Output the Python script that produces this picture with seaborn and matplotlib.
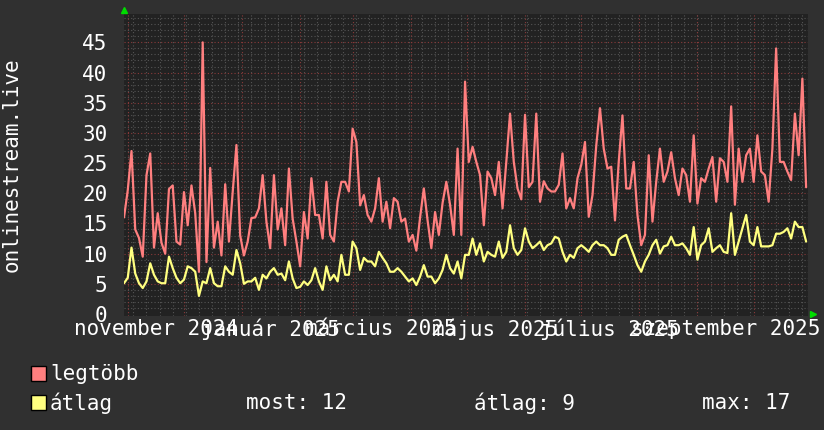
import pandas as pd
import matplotlib
matplotlib.use("Agg")
import matplotlib.pyplot as plt
from matplotlib.patches import Rectangle
import seaborn as sns

# napi adatok, 2 naponkent leolvasva
start = "2024-10-30"
legtobb = [
    16, 20.5, 27, 14, 12.6, 9.5, 23, 26.6, 11, 16.7,
    11.8, 10, 20.7, 21.3, 12, 11.5, 20.2, 14.7, 21.3, 16.7,
    7, 45, 8.6, 24.2, 11, 15.3, 9.7, 21.5, 12, 20.2,
    28, 13, 9.7, 12, 15.9, 16, 17.5, 23, 15.3, 10.9,
    23, 14, 17.5, 11.4, 24.1, 15.8, 12, 7.9, 16.9, 12.5,
    22.5, 16.4, 16.4, 12.5, 21.9, 13.1, 12, 18.6, 21.9, 21.9,
    20.3, 30.7, 28.5, 18, 19.7, 16.4, 15.3, 17.5, 22.5, 15.3,
    18.6, 14.2, 19.2, 18.6, 15.3, 15.8, 12, 13.1, 10.5, 16,
    20.8, 15.5, 10.9, 16.9, 13.1, 18.4, 21.9, 18.1, 13.1, 27.4,
    13.1, 38.5, 25.2, 27.7, 25.2, 23, 14.7, 23.6, 22.5, 19.7,
    25.2, 17.5, 25.2, 33.2, 25.2, 20.8, 19, 33, 21, 21.9,
    33.2, 18.6, 22, 20.8, 20.3, 20.3, 21.4, 26.6, 17.5, 19.2,
    17.5, 22.5, 24.7, 28.5, 16.1, 19.7, 27.9, 34.1, 27.4, 24.1,
    24.4, 15.5, 25.2, 32.9, 20.8, 20.8, 25.2, 16.4, 11.4, 13.1,
    26.3, 15.3, 21.9, 27.4, 21.9, 23.6, 26.8, 22.5, 19.7, 24.1,
    23, 18.6, 29.6, 18.3, 22.5, 21.9, 24.1, 26, 18.6, 25.8,
    25.2, 21.9, 34.4, 18.1, 27.4, 21.9, 26.3, 27.4, 21.9, 29.6,
    23.6, 23, 18.6, 27.4, 44, 25.2, 25.2, 23.6, 22.2, 33.2,
    26.3, 39, 21,
]
atlag = [
    5.1, 6, 11, 6.7, 5.1, 4.3, 5.4, 8.4, 6.5, 5.4,
    5.1, 5.1, 9.5, 7.6, 6, 5.1, 5.7, 7.9, 7.6, 7,
    3, 5.4, 5.1, 7.6, 5.1, 4.6, 4.6, 7.9, 7, 6.5,
    10.6, 8.4, 5, 5.4, 5.4, 6, 4, 6.5, 5.9, 7,
    7.6, 6.5, 6.7, 5.6, 8.7, 5.9, 4.3, 4.5, 5.4, 4.8,
    5.6, 7.6, 5.4, 4, 7.9, 5.6, 6.5, 5.4, 9.8, 6.5,
    6.5, 12, 10.9, 7.3, 9.3, 8.7, 8.7, 7.9, 10.3, 9.3,
    8.4, 7, 7, 7.6, 7, 6.2, 5.4, 5.9, 4.8, 6.2,
    8.1, 6.2, 6.2, 5.1, 5.9, 7.3, 9.8, 7.6, 6.7, 8.7,
    5.9, 9.8, 9.8, 12.5, 9.8, 11.7, 8.7, 10.3, 9.8, 9.5,
    12, 9.3, 10.3, 14.7, 10.9, 9.8, 10.6, 14.2, 12, 10.9,
    11.4, 12, 10.6, 11.4, 11.7, 12.8, 12.5, 10.3, 8.7, 9.8,
    9.3, 10.9, 11.4, 10.9, 10.3, 11.4, 12, 11.4, 11.4, 10.9,
    9.8, 9.8, 12.3, 12.8, 13.1, 11.4, 9.8, 8.1, 7, 8.7,
    9.8, 11.4, 12.3, 10, 11.2, 11.4, 12.8, 11.4, 11.4, 11.7,
    10.9, 9.8, 14.4, 9, 11.4, 12, 14.2, 10.3, 10.9, 11.4,
    10.3, 10.1, 16.7, 9.8, 12, 14.2, 16.4, 12, 11.4, 14.4,
    11.2, 11.2, 11.2, 11.4, 13.3, 13.3, 13.6, 14.2, 12.5, 15.3,
    14.4, 14.4, 12,
]
month_labels = ["november 2024", "január 2025", "március 2025",
                "május 2025", "július 2025", "szeptember 2025"]
label_dates = ["2024-11-16", "2025-01-16", "2025-03-16",
               "2025-05-16", "2025-07-16", "2025-09-16"]
stats = ["most: 12", "átlag: 9", "max: 17"]

dates = pd.date_range(start, periods=len(legtobb), freq="2D")
df = pd.DataFrame({"datum": dates, "legtöbb": legtobb, "átlag": atlag})
long = df.melt("datum", var_name="sor", value_name="ertek")

sns.set_style("dark")
plt.rcParams["font.family"] = ["DejaVu Sans Mono"]
fs = 15
W, H = 824, 430

fig = plt.figure(figsize=(8.24, 4.30), dpi=100, facecolor="#303030")
ax = fig.add_axes([124 / W, 1 - 316 / H, (808 - 124) / W, (316 - 14) / H])
ax.set_facecolor("#222222")

x0 = pd.Timestamp(start)
x1 = x0 + pd.Timedelta(days=365)
ax.set_xlim(x0, x1)
ax.set_ylim(-0.33, 49.7)

# racs
for v in range(1, 50):
    if v % 5:
        ax.axhline(v, color="#555555", lw=0.8, ls=(0, (1, 2)), zorder=1)
for d in pd.date_range("2024-11-04", x1, freq="7D"):
    ax.axvline(d, color="#555555", lw=0.8, ls=(0, (1, 2)), zorder=1)
for v in range(5, 50, 5):
    ax.axhline(v, color="#8a3a3a", lw=0.8, ls=(0, (1, 2)), zorder=2)
for d in pd.date_range("2024-11-01", x1, freq="MS"):
    ax.axvline(d, color="#8a3a3a", lw=0.8, ls=(0, (1, 2)), zorder=2)

palette = {"legtöbb": "#ff7f7f", "átlag": "#ffff80"}
sns.lineplot(data=long, x="datum", y="ertek", hue="sor", palette=palette,
             linewidth=1.6, legend=False, ax=ax, zorder=3)

ax.grid(False)
for s in ax.spines.values():
    s.set_visible(False)
ax.set_xlabel("")
ax.set_ylabel("")
ax.set_xticks(pd.to_datetime(label_dates))
ax.set_xticklabels(month_labels)
ax.set_yticks(range(0, 50, 5))
ax.tick_params(axis="both", length=0, colors="white", labelsize=fs)
ax.tick_params(axis="y", pad=12)
ax.tick_params(axis="x", pad=2)

# zold nyilak
ax.plot([0], [1.013], marker="^", color="#00dd00", markersize=5,
        transform=ax.transAxes, clip_on=False)
ax.plot([1.007], [0.0066], marker=">", color="#00dd00", markersize=5,
        transform=ax.transAxes, clip_on=False)

fig.text(12 / W, 1 - 165 / H, "onlinestream.live", rotation=90, color="white",
         fontsize=fs, ha="center", va="center")

# jelmagyarazat
for y, name in [(366, "legtöbb"), (395, "átlag")]:
    fig.patches.append(Rectangle((31 / W, 1 - (y + 15) / H), 15 / W, 15 / H,
                                 transform=fig.transFigure, facecolor=palette[name],
                                 edgecolor="black", lw=1))
    fig.text(50 / W, 1 - (y + 8) / H, name, color="white", fontsize=fs, va="center")
for xp, s in zip([246, 474, 702], stats):
    fig.text(xp / W, 1 - 403 / H, s, color="white", fontsize=fs, va="center")

fig.savefig("out.png", dpi=100, facecolor=fig.get_facecolor())
